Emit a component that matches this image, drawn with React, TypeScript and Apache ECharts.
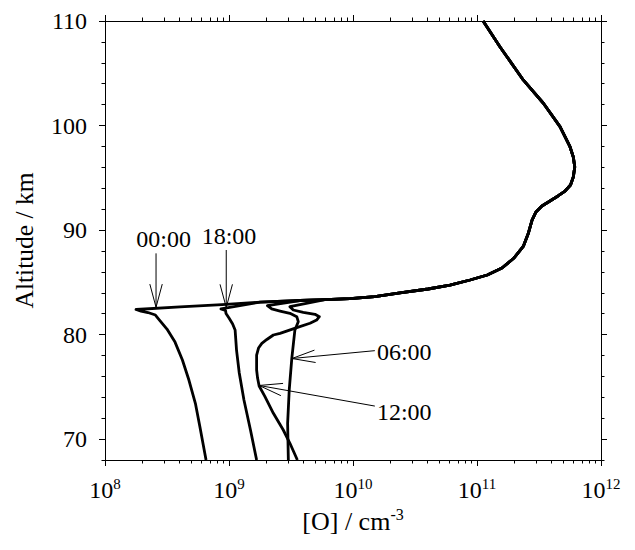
import React, { useEffect, useRef } from "react";
import * as echarts from "echarts";

// Atomic oxygen number density profiles, [O] (cm^-3) against altitude (km)

// Profile shared by all local times above the turning point
const mergedAlt = [82.64, 82.86, 83.1, 83.26, 83.35, 83.44, 83.64, 83.98, 84.36, 84.74, 85.22, 85.7, 86.37, 87.33, 88.47, 89.72, 90.96, 91.73, 92.3, 92.78, 93.26, 93.73, 94.31, 95.07, 96.03, 96.99, 97.97, 99.89, 102.13, 104.36, 107.54, 110.0];
const mergedO = [4.03e8, 8.79e8, 1.78e9, 3.74e9, 5.95e9, 9.46e9, 1.5e10, 2.39e10, 4.03e10, 6.05e10, 8.79e10, 1.21e11, 1.59e11, 1.99e11, 2.37e11, 2.6e11, 2.78e11, 2.99e11, 3.34e11, 3.88e11, 4.5e11, 5.13e11, 5.68e11, 5.98e11, 6.14e11, 5.98e11, 5.62e11, 4.67e11, 3.43e11, 2.36e11, 1.53e11, 1.12e11];

// Lower branches, from 68 km up to each turning point
const t00Alt = [68.0, 71.16, 73.36, 75.65, 77.57, 79.28, 80.53, 81.39, 81.87, 82.11, 82.25, 82.4];
const t00O = [6.53e8, 5.83e8, 5.37e8, 4.75e8, 4.21e8, 3.67e8, 3.16e8, 2.75e8, 2.55e8, 2.22e8, 1.95e8, 1.78e8];

const t18Alt = [68.0, 70.87, 73.74, 76.32, 78.52, 80.44, 81.01, 81.58, 82.01, 82.3, 82.46];
const t18O = [1.67e9, 1.49e9, 1.32e9, 1.21e9, 1.15e9, 1.12e9, 1.07e9, 1.0e9, 9.46e8, 9.38e8, 8.61e8];

const t06Alt = [68.0, 71.51, 74.7, 77.73, 80.44, 81.23, 81.71, 82.03, 82.25, 82.45, 82.76];
const t06O = [3.01e9, 2.97e9, 3.06e9, 3.21e9, 3.4e9, 3.62e9, 3.52e9, 3.1e9, 2.58e9, 2.21e9, 2.04e9];

const t12Alt = [68.0, 69.6, 70.87, 72.47, 74.06, 75.08, 75.84, 76.61, 78.04, 78.71, 79.16, 79.53, 79.96, 80.12, 80.66, 81.08, 81.39, 81.71, 81.94, 82.13, 82.35, 82.67];
const t12O = [3.56e9, 3.1e9, 2.74e9, 2.28e9, 1.95e9, 1.75e9, 1.7e9, 1.67e9, 1.67e9, 1.73e9, 1.84e9, 2.02e9, 2.28e9, 2.58e9, 3.52e9, 4.5e9, 5.09e9, 5.35e9, 4.94e9, 3.97e9, 3.3e9, 3.1e9];

// Local-time annotations: arrow tip, arrow tail and label anchor
const noteLabels = ["00:00", "18:00", "06:00", "12:00"];
const noteTipO = [2.58e8, 9.5e8, 3.22e9, 1.75e9];
const noteTipAlt = [82.61, 82.59, 77.71, 75.13];
const noteTailO = [2.58e8, 9.5e8, 1.5e10, 1.5e10];
const noteTailAlt = [87.77, 88.09, 78.46, 73.16];
const noteTextO = [2.97e8, 1.0e9, 1.56e10, 1.56e10];
const noteTextAlt = [89.14, 89.43, 78.38, 72.64];

// Axis ticks
const decadeTicks = [1e8, 1e9, 1e10, 1e11, 1e12];
const mantissas = [2, 3, 4, 5, 6, 7, 8, 9];
const altMajorTicks = [70, 80, 90, 100, 110];
const altMinorTicks = [68, 72, 74, 76, 78, 82, 84, 86, 88, 92, 94, 96, 98, 102, 104, 106, 108];

const FONT = "Liberation Serif";

const minorXTicks: number[] = [];
decadeTicks.slice(0, -1).forEach((d) => mantissas.forEach((m) => minorXTicks.push(m * d)));

function buildProfile(lowO: number[], lowAlt: number[]) {
  const pts: number[][] = lowO.map((o, i) => [o, lowAlt[i]]);
  const tipO = lowO[lowO.length - 1];
  const start = mergedO.findIndex((o) => o > 1.5 * tipO);
  for (let j = start; j < mergedO.length; j++) pts.push([mergedO[j], mergedAlt[j]]);
  return pts;
}

const profiles = [
  { name: "00:00", o: t00O, alt: t00Alt },
  { name: "18:00", o: t18O, alt: t18Alt },
  { name: "06:00", o: t06O, alt: t06Alt },
  { name: "12:00", o: t12O, alt: t12Alt },
];

function renderNote(params: any, api: any) {
  const i = params.dataIndex;
  const tip = api.coord([api.value(0), api.value(1)]);
  const tail = api.coord([api.value(2), api.value(3)]);
  const txt = api.coord([api.value(4), api.value(5)]);
  const dx = tail[0] - tip[0];
  const dy = tail[1] - tip[1];
  const len = Math.hypot(dx, dy);
  const ux = dx / len;
  const uy = dy / len;
  const head = 24;
  const spread = (15 * Math.PI) / 180;
  const wing = (a: number) => [
    tip[0] + head * (ux * Math.cos(a) - uy * Math.sin(a)),
    tip[1] + head * (ux * Math.sin(a) + uy * Math.cos(a)),
  ];
  const vertical = Math.abs(dx) < Math.abs(dy);
  return {
    type: "group",
    children: [
      {
        type: "line",
        shape: { x1: tail[0], y1: tail[1], x2: tip[0], y2: tip[1] },
        style: { stroke: "#000", lineWidth: 1 },
      },
      {
        type: "polyline",
        shape: { points: [wing(spread), tip, wing(-spread)] },
        style: { stroke: "#000", lineWidth: 1, fill: null },
      },
      {
        type: "text",
        x: txt[0],
        y: txt[1],
        style: {
          text: noteLabels[i],
          align: vertical ? "center" : "left",
          verticalAlign: "middle",
          fontSize: 24,
          fontFamily: FONT,
          fill: "#000",
        },
      },
    ],
  };
}

const axisLineStyle = { show: true, lineStyle: { color: "#000", width: 1 } };

const tickRich = {
  b: { fontSize: 24, fontFamily: FONT, color: "#000", lineHeight: 28 },
  s: { fontSize: 15, fontFamily: FONT, color: "#000", verticalAlign: "top", lineHeight: 18 },
};
const titleRich = {
  b: { fontSize: 26, fontFamily: FONT, color: "#000", lineHeight: 30 },
  s: { fontSize: 16, fontFamily: FONT, color: "#000", verticalAlign: "top", lineHeight: 19 },
};

function xAxisPair(position: "bottom" | "top", withLabels: boolean) {
  const major: any = {
    type: "log",
    logBase: 10,
    min: 1e8,
    max: 1e12,
    position,
    axisLine: axisLineStyle,
    axisTick: { show: true, inside: false, length: 6, customValues: decadeTicks, lineStyle: { color: "#000" } },
    splitLine: { show: false },
    axisLabel: withLabels
      ? {
          show: true,
          customValues: decadeTicks,
          margin: 16,
          formatter: (v: number) => `{b|10}{s|${Math.round(Math.log10(v))}}`,
          rich: tickRich,
        }
      : { show: false },
  };
  if (withLabels) {
    major.name = "{b|[O] / cm}{s|-3}";
    major.nameLocation = "middle";
    major.nameGap = 41;
    major.nameTextStyle = { rich: titleRich };
  }
  const minor = {
    type: "log",
    logBase: 10,
    min: 1e8,
    max: 1e12,
    position,
    axisLine: { show: false },
    axisTick: { show: true, inside: false, length: 3.5, customValues: minorXTicks, lineStyle: { color: "#000" } },
    splitLine: { show: false },
    axisLabel: { show: false },
  };
  return [major, minor];
}

function yAxisPair(position: "left" | "right", withLabels: boolean) {
  const major: any = {
    type: "value",
    min: 68,
    max: 110,
    position,
    axisLine: axisLineStyle,
    axisTick: { show: true, inside: false, length: 6, customValues: altMajorTicks, lineStyle: { color: "#000" } },
    splitLine: { show: false },
    axisLabel: withLabels
      ? { show: true, customValues: altMajorTicks, margin: 18, fontSize: 24, fontFamily: FONT, color: "#000" }
      : { show: false },
  };
  if (withLabels) {
    major.name = "Altitude / km";
    major.nameLocation = "middle";
    major.nameGap = 68;
    major.nameRotate = 90;
    major.nameTextStyle = { fontSize: 25.5, fontFamily: FONT, color: "#000" };
  }
  const minor = {
    type: "value",
    min: 68,
    max: 110,
    position,
    axisLine: { show: false },
    axisTick: { show: true, inside: false, length: 3.5, customValues: altMinorTicks, lineStyle: { color: "#000" } },
    splitLine: { show: false },
    axisLabel: { show: false },
  };
  return [major, minor];
}

const option: any = {
  animation: false,
  backgroundColor: "#fff",
  textStyle: { fontFamily: FONT },
  grid: { left: 105, right: 34, top: 21, bottom: 90, containLabel: false, outerBoundsMode: "none" },
  xAxis: [...xAxisPair("bottom", true), ...xAxisPair("top", false)],
  yAxis: [...yAxisPair("left", true), ...yAxisPair("right", false)],
  series: [
    ...profiles.map((p) => ({
      type: "line",
      name: p.name,
      xAxisIndex: 0,
      yAxisIndex: 0,
      data: buildProfile(p.o, p.alt),
      symbol: "none",
      showSymbol: false,
      smooth: false,
      silent: true,
      lineStyle: { color: "#000", width: 2.8, join: "round" },
      z: 3,
    })),
    {
      type: "custom",
      name: "local time",
      xAxisIndex: 0,
      yAxisIndex: 0,
      silent: true,
      clip: false,
      renderItem: renderNote,
      data: noteLabels.map((_, i) => [noteTipO[i], noteTipAlt[i], noteTailO[i], noteTailAlt[i], noteTextO[i], noteTextAlt[i]]),
      z: 4,
    },
  ],
};

export default function App() {
  const ref = useRef<HTMLDivElement>(null);
  useEffect(() => {
    const chart = echarts.init(ref.current!, null, { renderer: "svg" });
    chart.setOption(option);
    return () => chart.dispose();
  }, []);
  return (
    <div
      ref={ref}
      style={{ position: "absolute", left: 0, top: 0, width: 635, height: 550, background: "#fff" }}
    />
  );
}
